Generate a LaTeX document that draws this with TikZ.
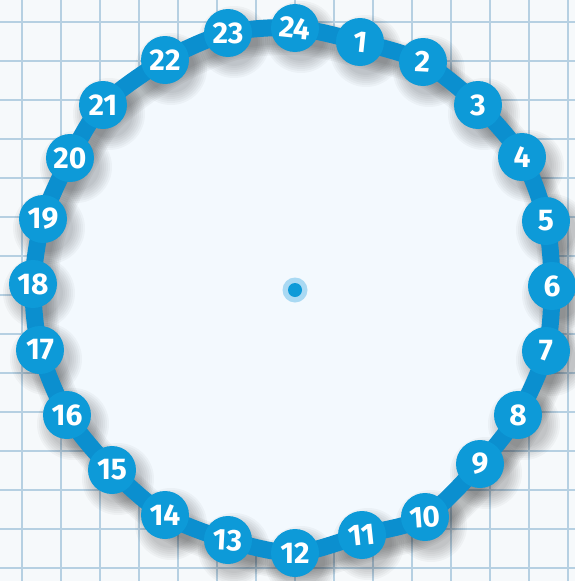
\documentclass[tikz,border=0pt]{standalone}
\usepackage{fontspec}
\setmainfont{Fira Sans}
\definecolor{blau}{HTML}{0D9AD8}
\definecolor{ringblau}{HTML}{0B8FCF}
\definecolor{gitter}{HTML}{B6D0E2}
\definecolor{papier}{HTML}{F6F9FB}
\definecolor{innen}{HTML}{F3F9FE}
\definecolor{hof}{HTML}{A9D9F3}
\tikzset{
    zahl/.style={circle, fill=blau, minimum size=48pt, inner sep=0pt,
        text=white, font=\bfseries\fontsize{30}{30}\selectfont},
    ring/.style={ringblau, line width=17pt, line join=round},
    gitterlinie/.style={gitter, line width=1.6pt},
}

\begin{document}
\begin{tikzpicture}[x=1pt, y=-1pt]
\useasboundingbox (0,0) rectangle (575,581);

% Papier mit Gitter
\fill[papier] (0,0) rectangle (575,581);
\foreach \i in {0,...,14} {
    \draw[gitterlinie] (22+39*\i,0) -- (22+39*\i,581);
    \draw[gitterlinie] (0,22+39*\i) -- (575,22+39*\i);
}

% Punkte auf dem Ring
\foreach \n/\x/\y in {24/295/28, 1/360/42, 2/423/62, 3/478/105, 4/522/157,
    5/546/221, 6/552/286, 7/546/351, 8/518/415, 9/480/464, 10/425/517,
    11/362/535, 12/295/553, 13/228/540, 14/165/515, 15/112/470, 16/67/415,
    17/40/350, 18/33/284, 19/43/219, 20/70/158, 21/103/105, 22/165/60,
    23/228/33}
    \coordinate (p\n) at (\x,\y);

% Innenflaeche
\fill[innen] plot[smooth cycle, tension=0.5] coordinates {(p24) (p1) (p2) (p3)
    (p4) (p5) (p6) (p7) (p8) (p9) (p10) (p11) (p12) (p13) (p14) (p15) (p16)
    (p17) (p18) (p19) (p20) (p21) (p22) (p23)};

% Schatten
\foreach \k in {1,...,7} {
    \begin{scope}[transform canvas={shift={(6,9)}}]
    \draw[black, opacity=0.04, line width=12pt+3.5pt*\k, line join=round]
        plot[smooth cycle, tension=0.5] coordinates {(p24) (p1) (p2) (p3)
        (p4) (p5) (p6) (p7) (p8) (p9) (p10) (p11) (p12) (p13) (p14) (p15)
        (p16) (p17) (p18) (p19) (p20) (p21) (p22) (p23)};
    \foreach \n in {1,...,24}
        \fill[black, opacity=0.03] (p\n) circle ({22+2*\k});
    \end{scope}
}

% Ring
\draw[ring] plot[smooth cycle, tension=0.5] coordinates {(p24) (p1) (p2) (p3)
    (p4) (p5) (p6) (p7) (p8) (p9) (p10) (p11) (p12) (p13) (p14) (p15) (p16)
    (p17) (p18) (p19) (p20) (p21) (p22) (p23)};

% Zahlen
\foreach \n/\r in {24/-6, 1/-6, 2/-3, 3/0, 4/0, 5/0, 6/0, 7/0, 8/0, 9/0,
    10/4, 11/6, 12/0, 13/-3, 14/0, 15/0, 16/0, 17/0, 18/0, 19/0, 20/0,
    21/0, 22/0, 23/0}
    \node[zahl] (z\n) at (p\n) {\rotatebox{\r}{\n}};

% Mittelpunkt
\coordinate (M) at (295,290);
\fill[hof] (M) circle (12.5);
\fill[blau] (M) circle (7);

\end{tikzpicture}
\end{document}
